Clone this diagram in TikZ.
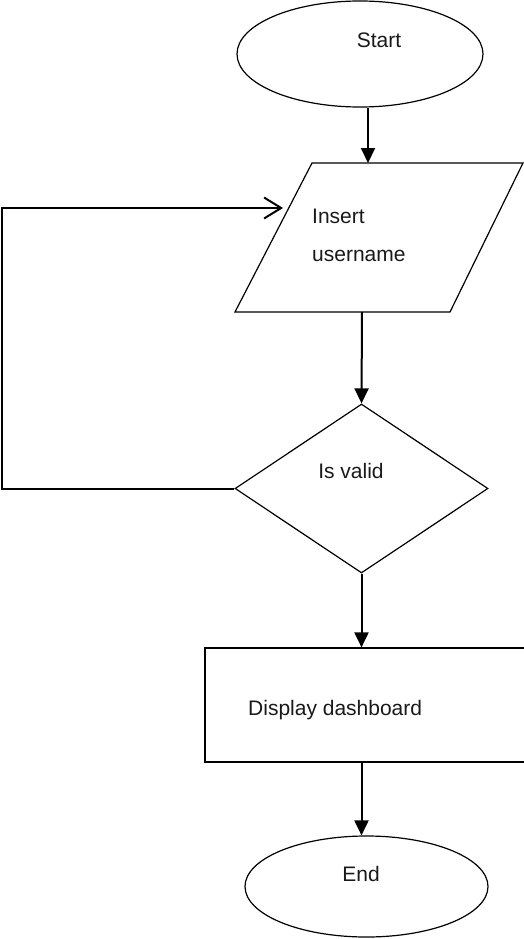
\documentclass[tikz,border=0pt]{standalone}
\usepackage{fontspec}
\setmainfont{Liberation Sans}
\usetikzlibrary{shapes.geometric,arrows.meta,calc}
\begin{document}
\begin{tikzpicture}[x=1pt,y=-1pt,
  shapeline/.style={draw=black,line width=1.2pt,inner sep=0pt},
  lbl/.style={font=\fontsize{21}{25}\selectfont,inner sep=0pt,text=black!90},
  arr/.style={line width=2pt,-{Triangle[length=15pt,width=14pt]}},
  barb/.style={line width=2pt,-{Straight Barb[length=17pt,width=21pt,line width=2pt]}}]
\useasboundingbox (0,0) rectangle (524,939);
% Start
\node[shapeline,ellipse,minimum width=246pt,minimum height=106pt] (start) at (360,54) {};
\node[lbl,anchor=base] (starttxt) at (379,48) {Start};
% Input parallelogram
\coordinate (inTL) at (312,163);
\coordinate (inTR) at (523,163);
\coordinate (inBR) at (450,312);
\coordinate (inBL) at (235,312);
\draw[line width=1.2pt,line join=miter] (inTL) -- (inTR) -- (inBR) -- (inBL) -- cycle;
\coordinate (intop) at (368,163);
\coordinate (inbot) at (362,312);
\coordinate (inleft) at (283,208);
\node[lbl,anchor=base west] (ins1) at (312,223) {Insert};
\node[lbl,anchor=base west] (ins2) at (312,261) {username};
% Decision
\node[shapeline,diamond,minimum width=253pt,minimum height=169pt] (dec) at (361.5,488.5) {};
\node[lbl,anchor=base] (dectxt) at (351,478) {Is valid};
% Process
\node[shapeline,rectangle,minimum width=330pt,minimum height=114pt] (proc) at (370,705) {};
\node[lbl,anchor=base west] (proctxt) at (248,715) {Display dashboard};
% End
\node[shapeline,ellipse,minimum width=243pt,minimum height=101pt] (stop) at (366.5,886.5) {};
\node[lbl,anchor=base] (stoptxt) at (361,881.7) {End};
% Connectors
\coordinate (c2) at (2,208);
\coordinate (c1) at (dec.west -| c2);
\draw[arr] ([xshift=8pt]start.south) -- (intop);
\draw[arr] (inbot) -- (dec.north);
\draw[arr] (dec.south) -- (dec.south |- proc.north);
\draw[arr] (dec.south |- proc.south) -- (dec.south |- stop.north);
\draw[barb,line join=miter] (dec.west) -- (c1) -- (c2) -- (inleft);
\end{tikzpicture}
\end{document}
